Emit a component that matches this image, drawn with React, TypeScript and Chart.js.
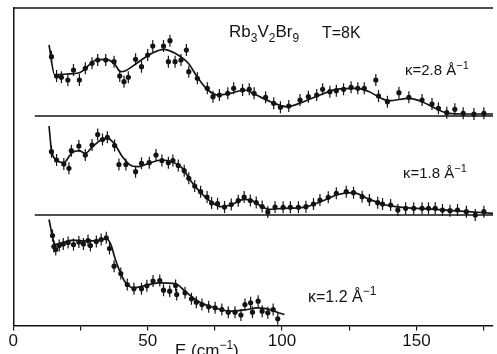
import React, { useEffect, useRef } from 'react';
import { Chart, registerables } from 'chart.js';

Chart.register(...registerables);

// x-axis (energy transfer, cm^-1)
const xTickLabels = [0, 50, 100, 150];
const X_MAX = 178.5;

// kappa = 2.8 A^-1 (top spectrum): measured points and fit
const k28E = [14.2,16.1,17.9,20.3,22.4,24.6,26.8,29.3,31.4,34.4,37.5,39.6,41.2,42.8,45.5,47.7,50.0,51.9,55.9,57.7,58.3,60.2,62.4,64.4,65.3,68.5,72.2,74.3,76.7,79.8,82.0,85.3,87.8,89.6,93.9,96.9,99.4,102.5,106.7,109.8,112.9,115.1,117.8,120.2,122.9,125.7,128.2,130.6,134.9,135.9,139.2,143.5,147.2,152.1,155.8,158.2,161.3,164.3,167.4,171.4,175.1];
const k28I = [59.3,40,38.7,36,46,36,47.7,52.7,56,56,54.3,40,34.3,38.7,56.7,49.3,61,70,70,54.3,75.3,54.3,56,66,44.3,37.7,27.7,19.3,21,22.7,27.7,26,26.7,22.7,18.7,12.7,8.7,10,16,19.3,21,26.7,24.3,25.3,26.7,28.7,27.7,27.7,36,20,14.3,23.3,18.7,16,12,7.7,3.3,6.7,2.7,2,2.7];
const k28FitE = [13.3,15.4,19.7,24.6,30.8,34.4,37.5,40,41.8,46.7,51.6,55.9,60.2,65.1,68.8,72.4,76.1,80.9,85.9,89.6,95.7,101.8,108,114.1,120.2,127.6,132.5,136.2,139.8,147.2,152.1,157,161.9,169.1,178.5];
const k28FitI = [71,41,42,43.3,56,56.7,52.7,44.3,45.3,54.3,62.7,66.7,62.7,52.7,37.7,26,21,22.7,26,22,14.3,9.3,14.3,21,26.7,27.7,24.3,18.7,15.3,17.7,14.3,7.7,2.7,2,2];

// kappa = 1.8 A^-1 (middle spectrum)
const k18E = [14.2,16.1,18.8,20.7,21.6,24.4,26.8,29.3,31.4,33.2,35.0,37.7,39.3,41.9,45.5,47.7,50.6,53.1,55.3,57.7,59.4,61.4,63.6,65.3,67.5,69.7,72.1,73.8,76.0,78.6,81.1,83.7,85.9,88.2,90.4,92.6,94.7,97.4,100.4,103.1,106.1,108.9,111.7,114.1,117.2,120.2,123.9,126.6,129.8,132.5,135.6,137.4,140.4,143.1,146.0,149.0,152.1,154.5,157.0,159.7,162.5,165.3,168.6,171.9,175.1];
const k18I = [63.3,55,51,46.7,64.3,69,60,70,80.5,75.5,77.7,69.5,50.5,50.5,43.3,51.7,52.3,60,54.5,52.3,54.5,49.5,44.3,36.7,29,23.3,18,12,11.3,8,10.5,14.3,18,14.5,12.5,8.5,3,8,7.7,7.7,7.7,8.3,11,15,17.7,21.7,23.3,22.3,18.3,15,12.3,11,10,5,6.7,6.7,6.7,6.7,6.7,5,4.3,5,3.3,0,3.3];
const k18FitE = [13.3,14.2,16.1,18.8,21.6,24.4,26.8,29.5,32.6,35.0,37.5,40.6,44.2,46.7,50.4,55.3,58.9,62.6,66.3,70.0,73.6,77.3,81.0,85.9,88.3,92.6,95.1,100.6,108.0,115.3,120.2,126.4,132.5,138.6,144.7,157.0,169.2,178.5];
const k18FitI = [89,65,55,52.3,61.7,64.3,61.7,68.3,75,76.7,71.7,58.3,49,48.3,51.7,55,53.3,47.7,33.3,21.7,13.3,8.3,10,15.7,15,8.3,5.7,6.7,7.7,14.3,20,22.3,15.7,10,7.7,5.7,3.3,1.7];

// kappa = 1.2 A^-1 (bottom spectrum)
const k12E = [14.6,15.1,15.8,17.1,18.6,20.4,22.4,24.4,26.1,27.8,28.7,30.9,32.7,34.6,35.8,37.5,40.0,42.4,44.9,47.7,49.7,52.0,54.5,55.9,58.2,60.4,60.8,63.9,66.3,68.1,70.2,72.7,75.1,77.6,80.0,82.5,84.7,86.2,88.3,89.0,91.1,92.6,94.7,96.7,98.4];
const k12I = [90,79,76,80,81.5,83,81,83.5,81.5,85,80,84,86,87.7,77,59.3,52,41,36.7,36.7,39.7,44.5,45,35.3,34.3,40,31,32.7,26.7,23.3,21,18.7,17.7,16,13.3,13.3,10.5,21,22.7,13.3,24.3,14.3,12.7,16,6.7];
const k12FitE = [13.3,14.8,15.4,17.9,22.2,27.1,32.0,34.7,36.3,37.9,39.6,41.8,44.9,49.2,54.0,60.2,63.9,68.8,74.9,81.0,87.1,90.8,94.5,98.2,100.9];
const k12FitI = [106,86,81,82.7,85.3,84.3,85.3,86.7,81,66.7,54.3,42.7,37.7,40,42.7,42,34.3,24.3,17.7,14.3,16,17.7,16.7,13.3,11];

const ERR = 6; // error bar half-length (arb. units)

// vertical stacking of the three spectra (arb. units)
const Y_MAX = 317.5;
const BASE_START = 8;
const panels = [
  { E: k28E, I: k28I, fitE: k28FitE, fitI: k28FitI, offset: 209.5, base: true },
  { E: k18E, I: k18I, fitE: k18FitE, fitI: k18FitI, offset: 110.5, base: true },
  { E: k12E, I: k12I, fitE: k12FitE, fitI: k12FitI, offset: 0, base: false },
];

const FONT = "'Liberation Sans Narrow', 'Liberation Sans', Arial, sans-serif";
const INK = '#141414';

type Run = [string, number];
function drawRuns(ctx: CanvasRenderingContext2D, x: number, y: number, runs: Run[], size: number) {
  let cx = x;
  ctx.textBaseline = 'alphabetic';
  ctx.textAlign = 'left';
  for (const [t, lvl] of runs) {
    const s = lvl === 0 ? size : Math.round(size * 0.72);
    const dy = lvl === 1 ? size * 0.3 : lvl === 2 ? -size * 0.42 : 0;
    ctx.font = `${s}px ${FONT}`;
    ctx.fillText(t, cx, y + dy);
    cx += ctx.measureText(t).width;
  }
}

const annotPlugin = {
  id: 'annot',
  afterDraw(chart: any) {
    const { ctx, chartArea: a } = chart;
    ctx.save();
    ctx.strokeStyle = INK;
    ctx.lineWidth = 1.3;
    ctx.beginPath();
    ctx.moveTo(a.left, a.top);
    ctx.lineTo(a.right, a.top);
    ctx.stroke();
    ctx.fillStyle = INK;
    drawRuns(ctx, 229, 37, [['Rb', 0], ['3', 1], ['V', 0], ['2', 1], ['Br', 0], ['9', 1]], 17);
    drawRuns(ctx, 322, 38, [['T=8K', 0]], 16);
    drawRuns(ctx, 405, 75, [['κ=2.8 Å', 0], ['−1', 2]], 15);
    drawRuns(ctx, 403, 178, [['κ=1.8 Å', 0], ['−1', 2]], 15);
    drawRuns(ctx, 308, 302, [['κ=1.2 Å', 0], ['−1', 2]], 16);
    drawRuns(ctx, 175, 356, [['E (cm', 0], ['−1', 2], [')', 0]], 17);
    ctx.restore();
  },
};

export default function App() {
  const ref = useRef<HTMLCanvasElement>(null);
  useEffect(() => {
    const canvas = ref.current;
    if (!canvas) return;
    const datasets: any[] = [];
    panels.forEach((p) => {
      if (p.base) {
        datasets.push({
          type: 'line',
          data: [{ x: BASE_START, y: p.offset }, { x: X_MAX, y: p.offset }],
          borderColor: INK, borderWidth: 1.4, pointRadius: 0, tension: 0,
        });
      }
      datasets.push({
        type: 'line',
        data: p.fitE.map((e, i) => ({ x: e, y: p.fitI[i] + p.offset })),
        borderColor: INK, borderWidth: 1.7, pointRadius: 0,
        cubicInterpolationMode: 'monotone', fill: false,
      });
      const err: any[] = [];
      p.E.forEach((e, i) => {
        const y = p.I[i] + p.offset;
        err.push({ x: e, y: y - ERR }, { x: e, y: y + ERR }, { x: e, y: null });
      });
      datasets.push({
        type: 'line', data: err, borderColor: INK, borderWidth: 1.2,
        pointRadius: 0, spanGaps: false, tension: 0,
      });
      datasets.push({
        type: 'scatter',
        data: p.E.map((e, i) => ({ x: e, y: p.I[i] + p.offset })),
        backgroundColor: INK, borderWidth: 0, pointRadius: 2.6,
      });
    });

    const chart = new Chart(canvas, {
      type: 'line',
      data: { datasets },
      options: {
        animation: false,
        responsive: false,
        events: [],
        layout: { padding: { top: 8, left: 0, right: 0, bottom: 0 } },
        plugins: { legend: { display: false }, tooltip: { enabled: false } },
        scales: {
          x: {
            type: 'linear', min: 0, max: X_MAX,
            border: { display: true, color: INK, width: 1.5 },
            grid: { display: true, drawOnChartArea: false, drawTicks: true, tickLength: 5, color: INK, lineWidth: 1.2 },
            ticks: {
              stepSize: 25, includeBounds: false, autoSkip: false, maxRotation: 0, padding: 1,
              color: INK, font: { family: FONT, size: 17 },
              callback: (v: any) => (xTickLabels.includes(Number(v)) ? String(v) : ''),
            },
            afterFit: (s: any) => { s.height = 28.5; },
          },
          y: {
            type: 'linear', min: 0, max: Y_MAX,
            border: { display: true, color: INK, width: 1.5 },
            grid: { display: false },
            ticks: { display: false },
            afterFit: (s: any) => { s.width = 13.3; },
          },
        },
      },
      plugins: [annotPlugin],
    } as any);
    return () => chart.destroy();
  }, []);

  return (
    <canvas
      ref={ref}
      width={497}
      height={354}
      style={{ position: 'absolute', left: 0, top: 0, display: 'block' }}
    />
  );
}
